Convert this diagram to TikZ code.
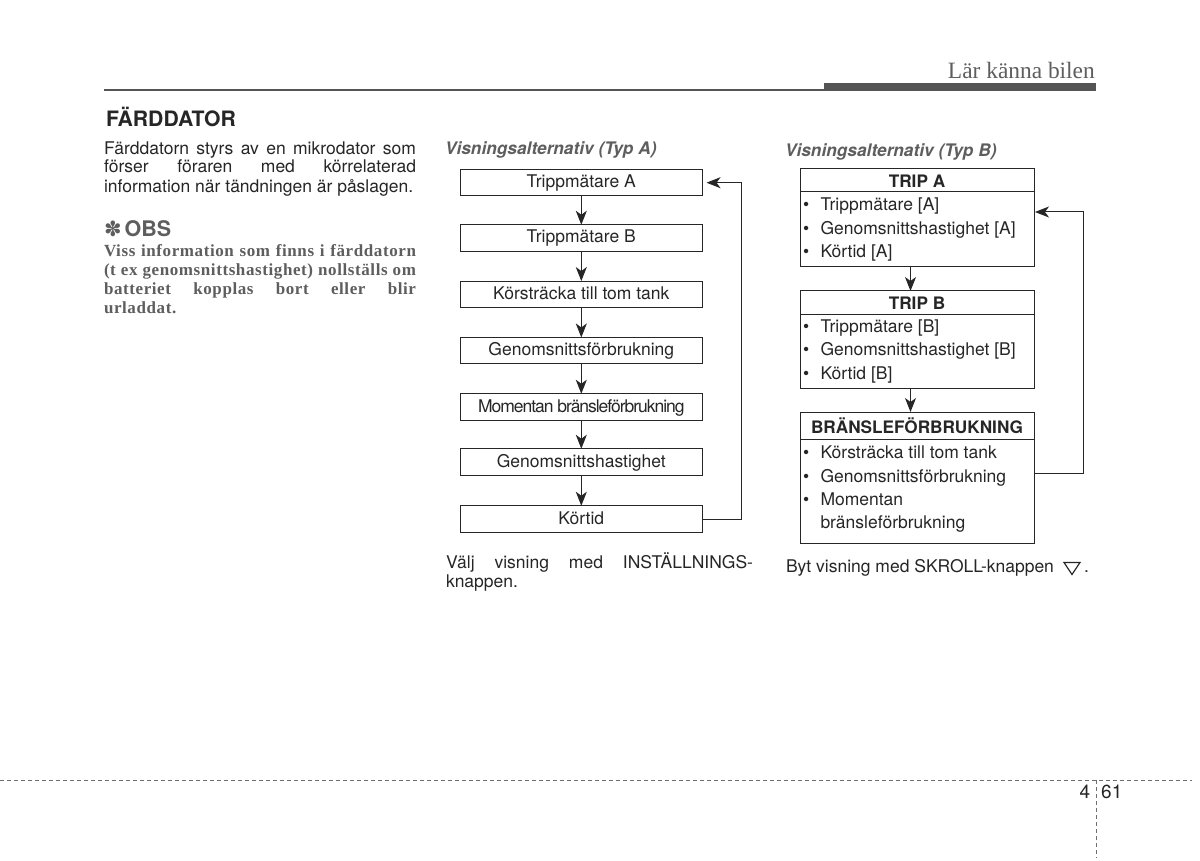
\documentclass[tikz,border=0pt]{standalone}
\usepackage{fontspec}
\usetikzlibrary{arrows.meta}
\setmainfont{TeX Gyre Heros}
\newfontfamily\serifnote{Liberation Serif}
\newfontfamily\symfont{DejaVu Sans}
\definecolor{ink}{HTML}{262626}
\definecolor{soft}{HTML}{5E5E5E}
\definecolor{rulec}{HTML}{555555}
\newcommand{\bodyfs}{\fontsize{17.5}{19}\selectfont}
\tikzset{
  txt/.style={anchor=base west,inner sep=0pt,outer sep=0pt,text=ink,font=\bodyfs},
  note/.style={anchor=base west,inner sep=0pt,outer sep=0pt,text=soft,font=\fontsize{17}{19}\selectfont\bfseries\serifnote\addfontfeature{LetterSpace=3.5}},
  captxt/.style={anchor=base west,inner sep=0pt,outer sep=0pt,text=soft,font=\fontsize{17.3}{19}\selectfont\bfseries\itshape},
  optbox/.style={draw=ink,line width=1pt,minimum width=242.5pt,minimum height=26.5pt,inner sep=0pt,outer sep=0pt,text=ink,font=\bodyfs,text height=12.5pt,text depth=2.5pt,anchor=center},
  groupbox/.style={draw=ink,line width=1pt,minimum width=234pt,inner sep=0pt,outer sep=0pt,anchor=north west},
  head/.style={anchor=base,inner sep=0pt,outer sep=0pt,text=ink,font=\fontsize{17.2}{19}\selectfont\bfseries},
  flow/.style={draw=ink,line width=1pt,-{Stealth[length=14pt,width=11pt,inset=4pt]}},
  back/.style={draw=ink,line width=1pt,-{Stealth[length=14pt,width=11pt,inset=4pt]},shorten >=4pt},
  divider/.style={draw=ink,line width=1pt},
  dashrule/.style={draw=rulec!85,line width=1pt,dash pattern=on 4pt off 3pt},
}
\begin{document}
\begin{tikzpicture}[x=1pt,y=-1pt]
\useasboundingbox[fill=white] (0,0) rectangle (1200,861);
% header
\draw[rulec,line width=1.8pt] (104,90) -- (824,90);
\fill[rulec] (824,83) rectangle (1096,91);
\node[anchor=base east,inner sep=0pt,text=soft,font=\fontsize{23.4}{26}\selectfont\serifnote] (title) at (1095,78.5) {Lär känna bilen};
% left column
\node[txt,font=\fontsize{21.2}{24}\selectfont\bfseries] (h1) at (106,127) {FÄRDDATOR};
\node[txt] (p1) at (104,155) {\makebox[312pt][s]{Färddatorn styrs av en mikrodator som}};
\node[txt] (p2) at (104,173) {\makebox[312pt][s]{förser föraren med körrelaterad}};
\node[txt] (p3) at (104,192.5) {information när tändningen är påslagen.};
\node[txt,text=soft,font=\fontsize{21.5}{24}\selectfont\bfseries] (obs) at (104,236.5) {{\symfont\fontsize{21}{24}\selectfont ✽}\kern3pt OBS};
\node[note] (n1) at (104,256.7) {\makebox[312pt][s]{Viss information som finns i färddatorn}};
\node[note] (n2) at (104,275.7) {\makebox[312pt][s]{(t ex genomsnittshastighet) nollställs om}};
\node[note] (n3) at (104,294.7) {\makebox[312pt][s]{batteriet kopplas bort eller blir}};
\node[note] (n4) at (104,313.7) {urladdat.};
% type A
\node[captxt] (capa) at (445,155) {Visningsalternativ (Typ A)};
\node[optbox] (a1) at (581.3,182.7) {Trippmätare A};
\node[optbox] (a2) at (581.3,238) {Trippmätare B};
\node[optbox] (a3) at (581.3,294.3) {Körsträcka till tom tank};
\node[optbox] (a4) at (581.3,350.7) {Genomsnittsförbrukning};
\node[optbox] (a5) at (581.3,407) {\addfontfeature{LetterSpace=-5.9}Momentan bränsleförbrukning};
\node[optbox] (a6) at (581.3,462) {Genomsnittshastighet};
\node[optbox] (a7) at (581.3,519) {Körtid};
\foreach \p/\q in {a1/a2,a2/a3,a3/a4,a4/a5,a5/a6,a6/a7}{\draw[flow] (\p) -- (\q);}
\coordinate (loopa) at (741.5,300);
\draw[back] (a7.east) -- (a7.east -| loopa) -- (a1.east -| loopa) -- (a1.east);
\node[txt] (ua1) at (446,568) {\makebox[307pt][s]{Välj visning med INSTÄLLNINGS-}};
\node[txt] (ua2) at (446,587) {knappen.};
% type B
\node[captxt] (capb) at (785,157) {Visningsalternativ (Typ B)};
\node[groupbox,minimum height=98pt] (b1) at (800,169) {};
\draw[divider] (800,192) -- (1034,192);
\node[head] (b1h) at (917,188) {TRIP A};
\foreach \n/\y/\t in {b1x/210.5/Trippmätare [A],b1y/234.5/Genomsnittshastighet [A],b1z/257.7/Körtid [A]}{
  \node[txt] (\n b) at (803,\y) {•};
  \node[txt] (\n) at (820.5,\y) {\t};
}
\node[groupbox,minimum height=97pt] (b2) at (800,291) {};
\draw[divider] (800,314) -- (1034,314);
\node[head] (b2h) at (917,309) {TRIP B};
\foreach \n/\y/\t in {b2x/332.5/Trippmätare [B],b2y/355.5/Genomsnittshastighet [B],b2z/379.5/Körtid [B]}{
  \node[txt] (\n b) at (803,\y) {•};
  \node[txt] (\n) at (820.5,\y) {\t};
}
\node[groupbox,minimum height=131pt] (b3) at (800,412) {};
\draw[divider] (800,439) -- (1034,439);
\node[head] (b3h) at (917,433.5) {BRÄNSLEFÖRBRUKNING};
\foreach \n/\y/\t in {b3x/458.5/Körsträcka till tom tank,b3y/482/Genomsnittsförbrukning,b3z/505.5/Momentan}{
  \node[txt] (\n b) at (803,\y) {•};
  \node[txt] (\n) at (820.5,\y) {\t};
}
\node[txt] (b3w) at (820.5,528.5) {bränsleförbrukning};
\coordinate (bx) at (910.5,300);
\draw[flow] (b1.south -| bx) -- (b2.north -| bx);
\draw[flow] (b2.south -| bx) -- (b3.north -| bx);
\coordinate (bout) at (1034,473);
\coordinate (bin) at (1034,212);
\coordinate (loopb) at (1083,300);
\draw[back,shorten >=1pt] (bout) -- (bout -| loopb) -- (bin -| loopb) -- (bin);
\node[txt] (ub) at (786,572) {Byt visning med SKROLL-knappen};
\draw[ink,line width=1.2pt] (1064,562.5) -- (1080,562.5) -- (1072,574.5) -- cycle;
\node[txt] (dot) at (1084,572) {.};
% footer
\draw[dashrule] (0,780) -- (1192,780);
\draw[dashrule] (1096,780) -- (1096,858);
\node[anchor=base east,inner sep=0pt,text=ink,font=\fontsize{19}{22}\selectfont] (chap) at (1090.5,798) {4};
\node[anchor=base west,inner sep=0pt,text=ink,font=\fontsize{19}{22}\selectfont] (page) at (1101,798) {61};
\end{tikzpicture}
\end{document}
